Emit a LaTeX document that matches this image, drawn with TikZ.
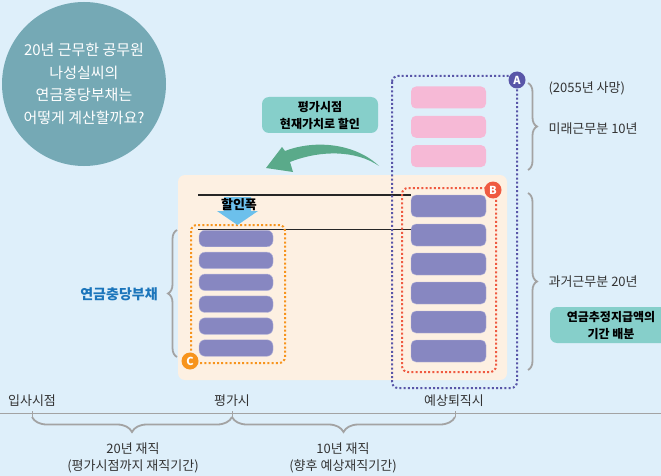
\documentclass[tikz,border=0pt]{standalone}
\usepackage{fontspec}
\setmainfont{Noto Sans CJK KR}
\usepackage{tikz}
\usetikzlibrary{positioning, calc, decorations.pathreplacing}
\usepackage{xcolor}
\definecolor{SkyBg}{HTML}{DEEFFA}
\definecolor{BubbleTeal}{HTML}{75A9B5}
\definecolor{PanelPeach}{HTML}{FDF0E2}
\definecolor{FuturePink}{HTML}{F6B9D6}
\definecolor{BarPurple}{HTML}{8787C1}
\definecolor{GroupPurple}{HTML}{5956A8}
\definecolor{GroupRed}{HTML}{EF5A41}
\definecolor{GroupOrange}{HTML}{F7941D}
\definecolor{NoteTeal}{HTML}{86CFCA}
\definecolor{ArrowGreen}{HTML}{5AAA8A}
\definecolor{CutBlue}{HTML}{6CC0EC}
\definecolor{LabelBlue}{HTML}{1B75BB}
\definecolor{BraceGrey}{HTML}{A3A3A3}
\definecolor{TextGrey}{HTML}{333333}
\tikzset{
    % Node styles
    bubble/.style={
        circle,
        fill=BubbleTeal,
        minimum size=164pt,
        inner sep=0pt,
        text=white,
        align=center,
        font=\fontsize{15}{22.7}\selectfont
    },
    panel/.style={
        rectangle,
        rounded corners=7pt,
        fill=PanelPeach,
        minimum width=329pt,
        minimum height=205pt
    },
    futurebar/.style={
        rectangle,
        rounded corners=5pt,
        fill=FuturePink,
        minimum width=75pt,
        minimum height=22pt,
        inner sep=0pt
    },
    pastbar/.style={
        futurebar,
        fill=BarPurple,
        draw=BarPurple!60!white
    },
    nowbar/.style={
        pastbar,
        minimum width=74pt,
        minimum height=16.5pt,
        rounded corners=6pt
    },
    notebox/.style={
        rectangle,
        rounded corners=7pt,
        fill=NoteTeal,
        align=center,
        font=\fontsize{12}{17}\selectfont\bfseries
    },
    tag/.style={
        circle,
        minimum size=17pt,
        inner sep=0pt,
        text=white,
        font=\fontsize{11}{11}\selectfont\bfseries
    },
    sidelabel/.style={
        anchor=west,
        text=TextGrey,
        font=\fontsize{13}{14}\selectfont
    },
    timelabel/.style={
        text=TextGrey,
        align=center,
        font=\fontsize{13}{17}\selectfont
    },
    % Line styles
    groupline/.style={
        line width=2pt,
        dash pattern=on 2pt off 2.2pt,
        rounded corners=6pt
    },
    graybrace/.style={
        BraceGrey,
        line width=1.8pt,
        decorate,
        decoration={brace, amplitude=#1}
    },
    timeline/.style={
        draw=BraceGrey,
        line width=0.8pt
    }
}
\begin{document}
\begin{tikzpicture}[x=1pt, y=-1pt]
    % Canvas
    \fill[SkyBg] (0,0) rectangle (661,476);
    \useasboundingbox (0,0) rectangle (661,476);
    \clip (0,0) rectangle (661,476);

    % Question
    \node[bubble] (question) at (84,84) {20년 근무한 공무원\\나성실씨의\\연금충당부채는\\어떻게 계산할까요?};

    % Valuation panel
    \node[panel] (panel) at (342.5,277.5) {};

    % Bars
    \foreach \i in {0,1,2}
        \node[futurebar] (f\i) at (448.5,{97.5+29.3*\i}) {};
    \foreach \i in {0,...,5}
        \node[pastbar] (r\i) at (448.5,{206+29*\i}) {};
    \foreach \i in {0,...,5}
        \node[nowbar] (n\i) at (236,{238.5+21.9*\i}) {};

    % Discount lines
    \coordinate (cutTop) at (198,195);
    \coordinate (cutLow) at (198,229);
    \draw[line width=1.6pt, black!85] (cutTop) -- (cutTop -| r0.west);
    \draw[line width=0.8pt, black!85] (cutLow) -- (cutLow -| r1.west);

    % Groups
    \draw[groupline, GroupPurple] (392,76) rectangle (517,388);
    \draw[groupline, GroupRed] (402,188) rectangle (496,372);
    \draw[groupline, GroupOrange] (191,225) rectangle (285,363);
    \node[tag, fill=GroupPurple] (tagA) at (517,80) {A};
    \node[tag, fill=GroupRed] (tagB) at (493,190) {B};
    \node[tag, fill=GroupOrange] (tagC) at (190,361) {C};

    % Discount width arrow
    \fill[CutBlue] (224,197) -- (251,197) -- (251,211) -- (258,211)
        -- (237.5,225) -- (217,211) -- (224,211) -- cycle;
    \node[font=\fontsize{13}{13}\selectfont\bfseries] (cutLabel) at (239,205) {할인폭};

    % Present value note
    \node[notebox, minimum width=116pt, minimum height=36pt] (discount) at (320,115) {평가시점\\현재가치로 할인};
    \fill[ArrowGreen] (379,166) .. controls (356,144) and (316,139) .. (285,151)
        -- (282,147) -- (266,168) -- (293,172) -- (290,162)
        .. controls (320,150) and (356,150) .. (379,166) -- cycle;

    % Right braces
    \draw[graybrace=9pt] (528,83) -- (528,170);
    \draw[graybrace=9pt] (528,193) -- (528,370);
    \node[sidelabel] (death) at (545,88) {(2055년 사망)};
    \node[sidelabel] (future) at (545,129) {미래근무분 10년};
    \node[sidelabel] (past) at (545,282) {과거근무분 20년};
    \node[notebox, minimum width=122pt, minimum height=36pt] (allocate) at (611,325) {연금추정지급액의\\기간 배분};

    % Left brace
    \draw[graybrace=9pt] (177,357) -- (177,230);
    \node[text=LabelBlue, font=\fontsize{14}{14}\selectfont\bfseries] (liability) at (119,294) {연금충당부채};

    % Timeline
    \draw[timeline] (0,413) -- (661,413);
    \coordinate (hire) at (32,413);
    \coordinate (valuation) at (232,413);
    \coordinate (retire) at (455,413);
    \foreach \p in {hire, valuation, retire}
        \draw[timeline] (\p) ++(0,-2) -- ++(0,6);
    \node[timelabel] (hireLbl) at (32,401) {입사시점};
    \node[timelabel] (valLbl) at (232,401) {평가시};
    \node[timelabel] (retLbl) at (454,401) {예상퇴직시};
    \draw[graybrace=15pt] ($(valuation)+(0,4)$) -- ($(hire)+(0,4)$);
    \draw[graybrace=15pt] ($(retire)+(0,4)$) -- ($(valuation)+(0,4)$);
    \node[timelabel] (pastSpan) at (133,457.5) {20년 재직\\(평가시점까지 재직기간)};
    \node[timelabel] (futureSpan) at (343,457.5) {10년 재직\\(향후 예상재직기간)};
\end{tikzpicture}
\end{document}
